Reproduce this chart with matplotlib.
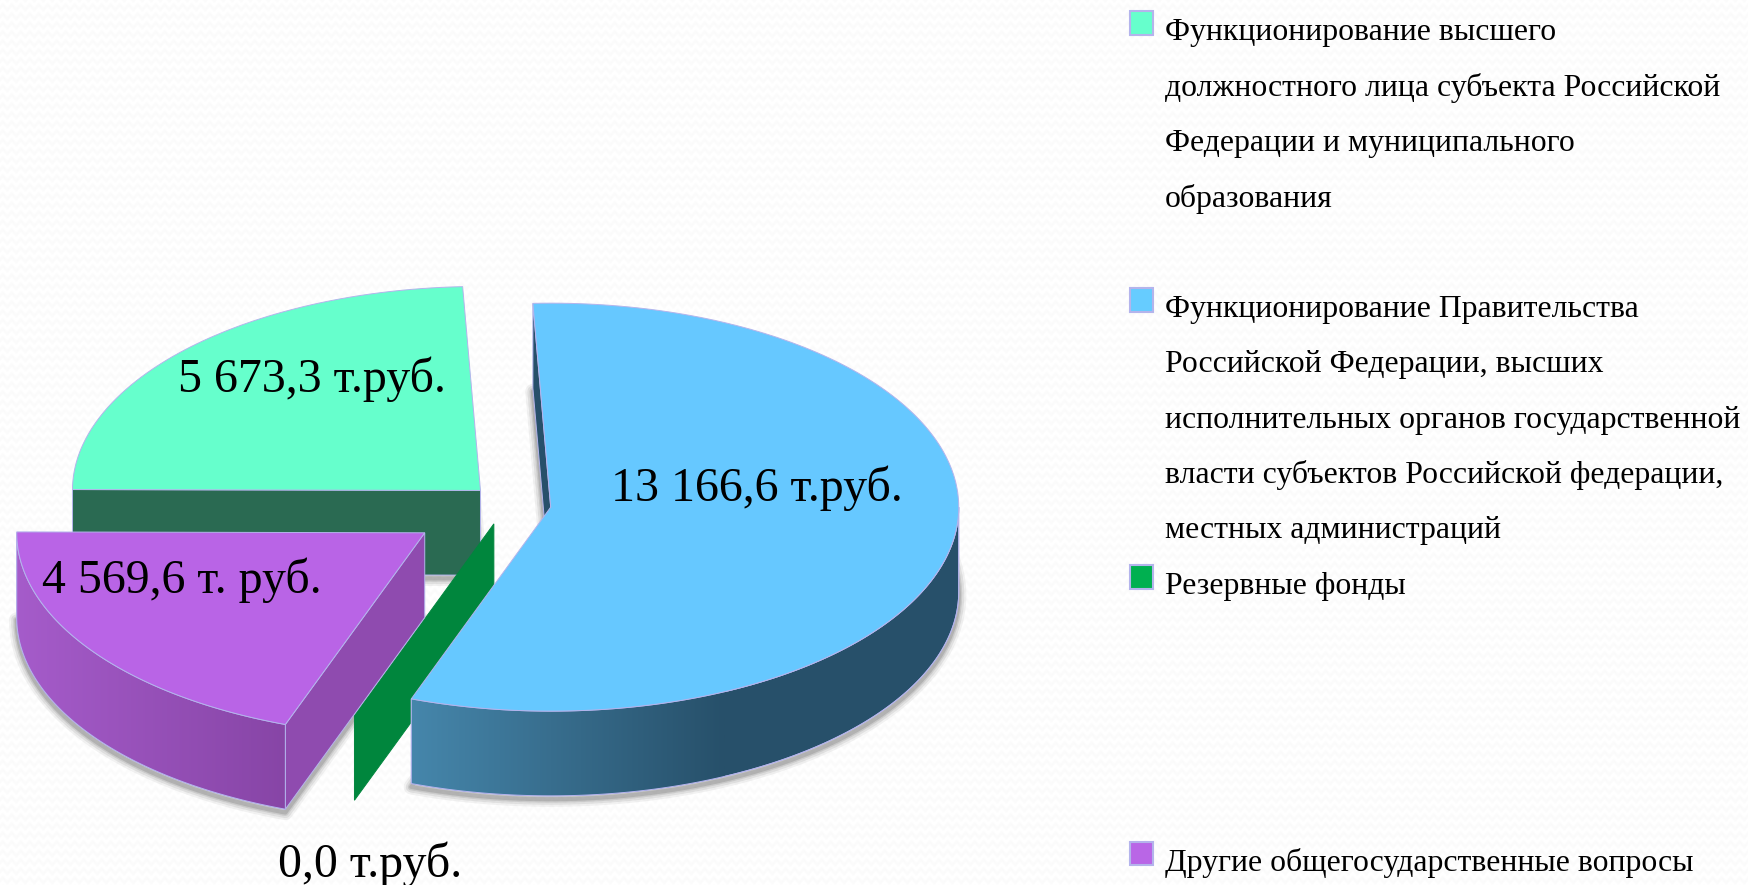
import numpy as np
import matplotlib
matplotlib.use('Agg')
import matplotlib.pyplot as plt
from matplotlib.colors import LinearSegmentedColormap
from matplotlib.patches import Polygon, Rectangle

plt.rcParams['font.family'] = ['Liberation Serif', 'DejaVu Serif']

# data
values = [5673.3, 13166.6, 0.0, 4569.6]
value_labels = ['5 673,3 т.руб.', '13 166,6 т.руб.', '0,0 т.руб.', '4 569,6 т. руб.']
legend_lines = [
    ['Функционирование высшего', 'должностного лица субъекта Российской',
     'Федерации и муниципального', 'образования'],
    ['Функционирование Правительства', 'Российской Федерации, высших',
     'исполнительных органов государственной', 'власти субъектов Российской федерации,',
     'местных администраций'],
    ['Резервные фонды'],
    ['Другие общегосударственные вопросы'],
]

# styles, positions are in the 1568x794 preview coordinates
top_colors = ['#66FFCC', '#66C8FF', '#00863D', '#B964E6']
wall_colors = ['#2A6A52', '#27506A', '#00863D', '#8F4BAF']
swatch_colors = ['#66FFCC', '#66CCFF', '#00B050', '#B966E6']
gradients = [None, ('#4687AC', '#27506A', 365, 650), None, ('#A65CCB', '#8745A6', 10, 257)]
centers = [(431, 440), (494, 455), (443, 470), (381, 478)]
label_pos = [(280, 340), (679, 438), (332, 775), (163, 521)]
legend_rows = [0, 5, 10, 15]
draw_order = [0, 2, 3, 1]
RX, RY, DEPTH = 366, 183, 76
START = -89.75
EDGE = '#B4B4EC'


def ell(c, t, dy=0):
    t = np.radians(t)
    return np.column_stack([c[0] + RX * np.sin(t), c[1] - RY * np.cos(t) + dy])


def arc(c, t0, t1, dy=0):
    return ell(c, np.linspace(t0, t1, max(int(abs(t1 - t0)) * 2, 2)), dy)


fig = plt.figure(figsize=(17.48, 8.85), dpi=100)
ax = fig.add_axes([0, 0, 1, 1])
ax.axis('off')

# faint wavy paper texture of the slide
xx, yy = np.meshgrid(np.arange(1748), np.arange(885))
wave = 0.5 + 0.5 * np.sin(2 * np.pi * (yy + 2 * np.sin(2 * np.pi * xx / 9)) / 9)
ax.imshow(250 + 5 * wave, cmap='gray', vmin=0, vmax=255, aspect='auto',
          extent=(0, 1568, 794, 0), zorder=-10, interpolation='nearest')

sweeps = np.array(values) / sum(values) * 360
starts = START + np.concatenate([[0], np.cumsum(sweeps)[:-1]])

# soft shadows around the bottom faces go under everything
for i in draw_order:
    if sweeps[i] == 0:
        continue
    c = np.array(centers[i], dtype=float)
    base = np.vstack([[c + [0, DEPTH]], arc(c, starts[i], starts[i] + sweeps[i], DEPTH)])
    for lw, alpha in zip([11, 8, 5, 3], [0.05, 0.07, 0.09, 0.12]):
        ax.add_patch(Polygon(base + [0, 3], closed=True, facecolor='none', edgecolor='black',
                             lw=lw, alpha=alpha, joinstyle='round'))

for i in draw_order:
    t0, t1 = starts[i], starts[i] + sweeps[i]
    c = np.array(centers[i], dtype=float)

    # cut sides, only the ones facing the viewer
    for t, facing in [(t0, np.sin(np.radians(t0)) < 0), (t1, np.sin(np.radians(t1)) > 0)]:
        if facing:
            p = ell(c, [t])[0]
            side = [c, p, p + [0, DEPTH], c + [0, DEPTH]]
            ax.add_patch(Polygon(side, closed=True, facecolor=wall_colors[i],
                                 edgecolor=EDGE if sweeps[i] > 0 else wall_colors[i], lw=0.7))

    # rim
    a0, a1 = max(t0, 90), min(t1, 270)
    if a1 > a0:
        rim = np.vstack([arc(c, a0, a1), arc(c, a0, a1, DEPTH)[::-1]])
        patch = Polygon(rim, closed=True, facecolor=wall_colors[i], edgecolor=EDGE, lw=0.7)
        ax.add_patch(patch)
        if gradients[i]:
            c_left, c_right, x_left, x_right = gradients[i]
            cmap = LinearSegmentedColormap.from_list('rim', [c_left, c_right])
            img = ax.imshow(np.linspace(0, 1, 256).reshape(1, -1), cmap=cmap, aspect='auto',
                            extent=(x_left, x_right, 794, 0), zorder=patch.get_zorder())
            img.set_clip_path(patch)
        ax.add_patch(Polygon(rim, closed=True, facecolor='none', edgecolor=EDGE, lw=0.7))

    # top face
    if sweeps[i] > 0:
        top = np.vstack([[c], arc(c, t0, t1)])
        ax.add_patch(Polygon(top, closed=True, facecolor=top_colors[i], edgecolor=EDGE, lw=0.7))

for (x, y), text in zip(label_pos, value_labels):
    ax.text(x, y, text, fontsize=34.5, ha='center', va='center', color='black')

# legend
for row, lines, col in zip(legend_rows, legend_lines, swatch_colors):
    y0 = 29 + row * 49.7
    ax.add_patch(Rectangle((1013.5, y0 - 19), 21, 21, facecolor=col, edgecolor=EDGE, lw=1.5))
    for k, line in enumerate(lines):
        ax.text(1045, y0 + k * 49.7, line, fontsize=22.9, ha='left', va='center', color='black')

ax.set_xlim(0, 1568)
ax.set_ylim(794, 0)
fig.savefig('out.png', dpi=100)
